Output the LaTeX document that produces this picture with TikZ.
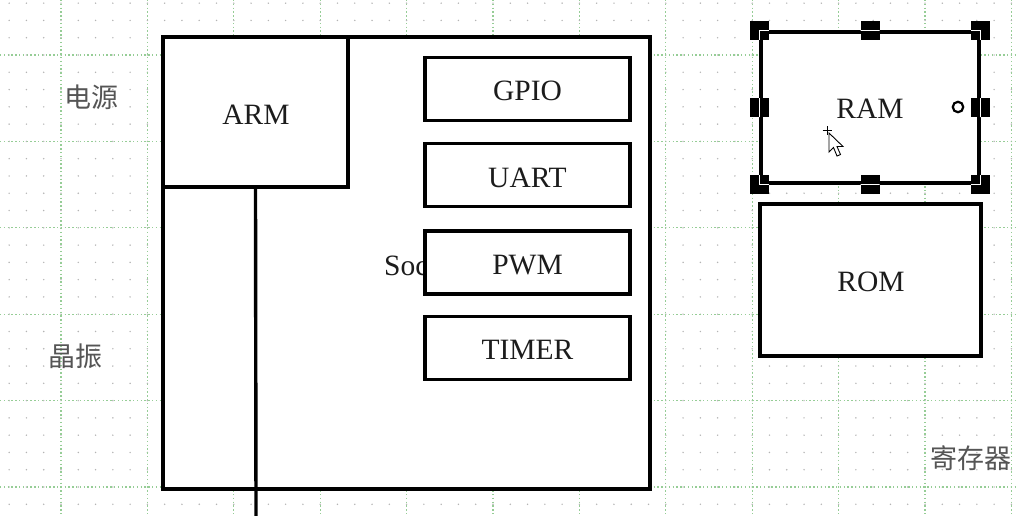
\documentclass[tikz,border=0pt]{standalone}
\usepackage{fontspec}
\setmainfont{Liberation Serif}
\newfontfamily\cjk{Noto Sans CJK SC}
\definecolor{gridgreen}{RGB}{150,205,150}
\definecolor{griddot}{RGB}{180,180,180}
\definecolor{txt}{RGB}{28,28,28}
\definecolor{cjkgray}{RGB}{85,85,85}
\tikzset{
  box/.style={draw=black, line width=3.4pt, fill=white, inner sep=0pt,
    font=\fontsize{29.5}{30}\selectfont, text=txt},
  boxtext/.style={yshift=-2pt},
  periph/.style={box, minimum width=205, minimum height=63},
  gridmajor/.style={draw=gridgreen, line width=1.2pt, dash pattern=on 1.4pt off 2.4pt},
  cjklabel/.style={font=\cjk\fontsize{27}{28}\selectfont, text=cjkgray, inner sep=0pt},
  handle/.style={fill=black},
}
\begin{document}
\begin{tikzpicture}[x=1pt,y=-1pt]
\useasboundingbox (0,0) rectangle (1017,515);
\fill[white] (0,0) rectangle (1017,515);
% grid
\foreach \i in {-3,...,55}{
  \foreach \j in {-3,...,26}{
    \fill[griddot] ({61+17.28*\i},{55+17.28*\j}) circle (0.8);
  }
}
\foreach \k in {0,...,11}{
  \draw[gridmajor] ({61+86.4*\k},0) -- ({61+86.4*\k},515);
}
\foreach \k in {0,...,5}{
  \draw[gridmajor] (0,{55+86.4*\k}) -- (1017,{55+86.4*\k});
}
% SoC
\node[box, minimum width=487, minimum height=452] (soc) at (406.5,263) {};
\node[font=\fontsize{29.5}{30}\selectfont, text=txt, anchor=base west, inner sep=0pt] (soclabel) at (384,275) {Soc};
\node[box, minimum width=185, minimum height=150] (arm) at (255.5,112) {};
\node[font=\fontsize{29.5}{30}\selectfont, text=txt, inner sep=0pt] (armlabel) at (256,114.5) {ARM};
\coordinate (busend) at (256,516);
\draw[line width=3.4pt] (arm.south) -- (busend);
\node[periph] (gpio) at (527.5,89) {};
\node[periph] (uart) at (527.5,175) {};
\node[periph] (pwm) at (527.5,262.5) {};
\node[periph] (timer) at (527.5,348) {};
\node[font=\fontsize{29.5}{30}\selectfont, text=txt, inner sep=0pt] (gpiolabel) at (527.5,91) {GPIO};
\node[font=\fontsize{29.5}{30}\selectfont, text=txt, inner sep=0pt] (uartlabel) at (527.5,177.5) {UART};
\node[font=\fontsize{29.5}{30}\selectfont, text=txt, inner sep=0pt] (pwmlabel) at (527.5,265) {PWM};
\node[font=\fontsize{29.5}{30}\selectfont, text=txt, inner sep=0pt] (timerlabel) at (527.5,350) {TIMER};
% memories
\node[box, minimum width=218, minimum height=151] (ram) at (870,107.5) {};
\node[box, minimum width=221, minimum height=152] (rom) at (870.5,280) {};
\node[font=\fontsize{29.5}{30}\selectfont, text=txt, inner sep=0pt] (ramlabel) at (870,108.5) {RAM};
\node[font=\fontsize{29.5}{30}\selectfont, text=txt, inner sep=0pt] (romlabel) at (871,282) {ROM};
% selection handles
\foreach \a in {north west,north,north east,east,south east,south,south west,west}{
  \fill[handle] (ram.\a) ++(-9.5,-9.5) rectangle ++(19,19);
}
\begin{scope}
  \clip \foreach \a in {north west,north,north east,east,south east,south,south west,west}{
    (ram.\a) ++(-9.5,-9.5) rectangle ++(19,19)
  };
  \draw[white, line width=1.5pt] (ram.north west) rectangle (ram.south east);
\end{scope}
\node[circle, draw=black, fill=white, line width=2.2pt, minimum size=10.5, inner sep=0pt] (rot) at (958,107) {};
% mouse cursor
\draw[black, line width=1pt] (822.5,130.5) -- (831.5,130.5) (827,126) -- (827,135);
\draw[black, fill=white, line width=0.9pt, line join=miter]
  (829,133) -- (829,152) -- (833.5,147.5) -- (837,156) -- (840.5,154.5) -- (837,146.5) -- (843,146.5) -- cycle;
% side labels
\node[cjklabel] (power) at (91,97) {电源};
\node[cjklabel] (crystal) at (75.5,356) {晶振};
\node[cjklabel] (regs) at (970.5,458) {寄存器};
\end{tikzpicture}
\end{document}
